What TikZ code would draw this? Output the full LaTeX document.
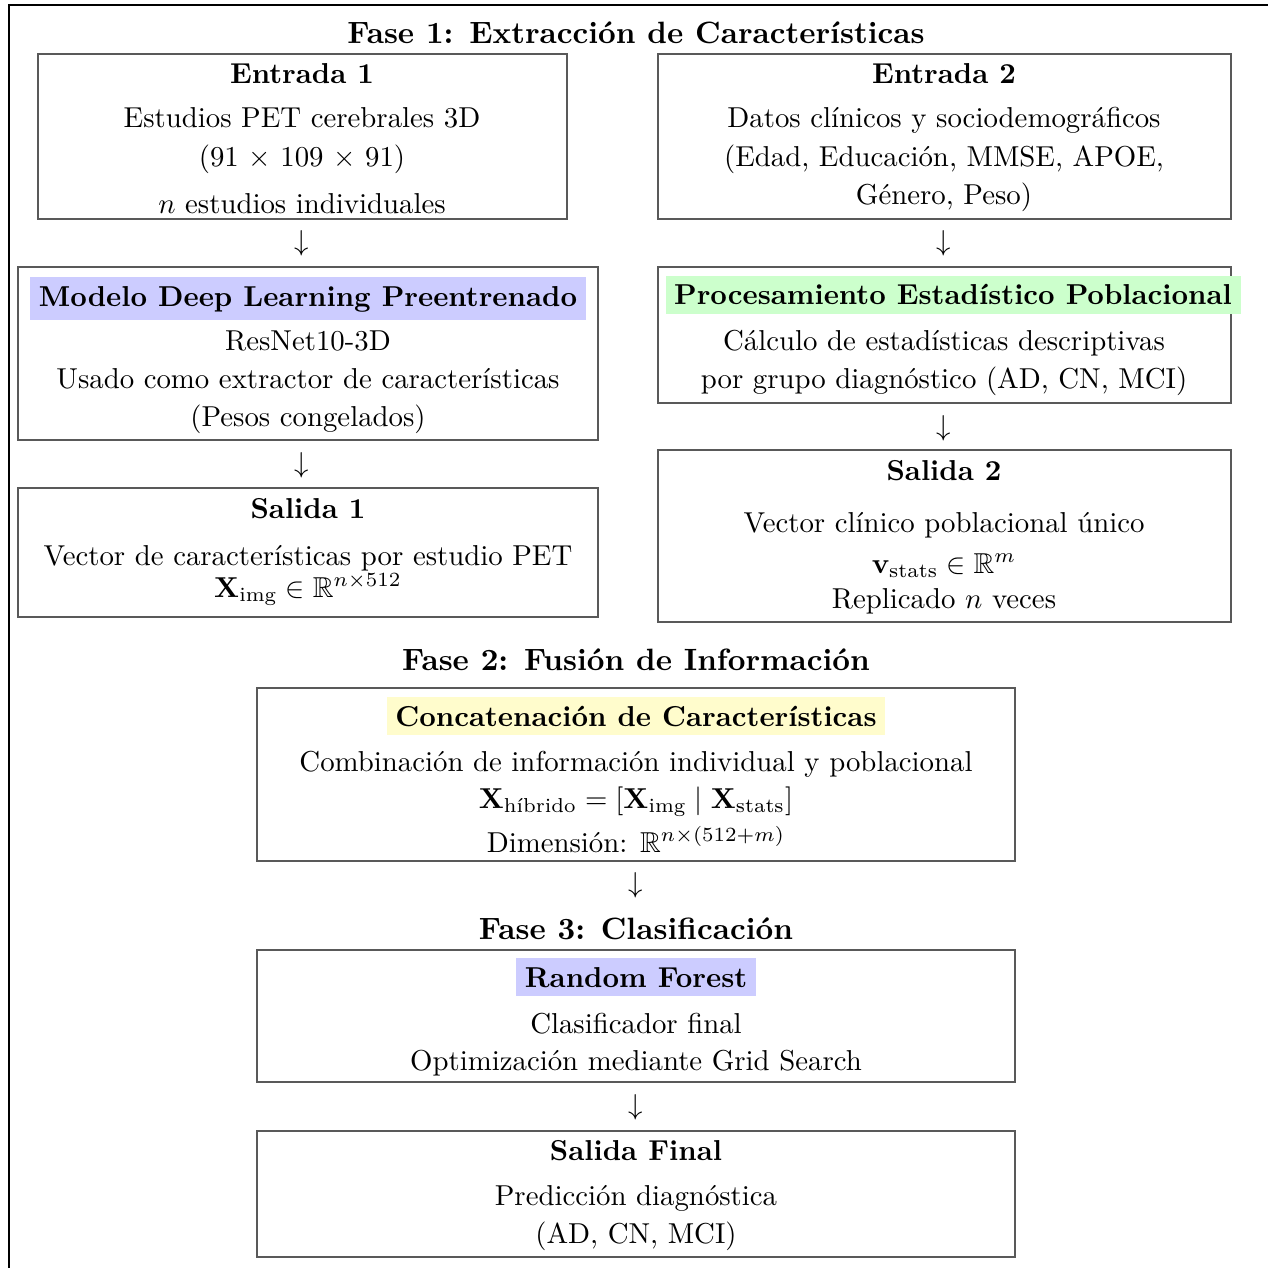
\documentclass[tikz,border=0pt]{standalone}
\usepackage{amsmath,amssymb}
\begin{document}
\begin{tikzpicture}[x=0.34722pt,y=-0.34722pt,
  boxnode/.style={draw=black!65, line width=0.6pt, inner sep=0pt},
  txt/.style={anchor=base, inner sep=0pt, font=\fontsize{10}{12}\selectfont},
  ttl/.style={anchor=base, inner sep=0pt, font=\fontsize{10}{12}\selectfont\bfseries},
  phase/.style={anchor=base, inner sep=0pt, font=\fontsize{10.7}{13}\selectfont\bfseries},
  hl/.style={anchor=base, inner sep=3pt, font=\fontsize{10}{12}\selectfont\bfseries},
  arr/.style={anchor=center, inner sep=0pt, font=\fontsize{10}{12}\selectfont}]
\useasboundingbox (0,0) rectangle (1268,1268);
\fill[white] (0,0) rectangle (1268,1268);
% outer frame (cropped at right and bottom)
\draw[black, line width=0.5pt] (1290,5) -- (9,5) -- (9,1290);

% ---------- Fase 1
\node[phase] (f1) at (636,44) {Fase 1: Extracción de Características};

% Entrada 1
\node[boxnode, minimum width=529*0.34722pt, minimum height=165*0.34722pt] (e1) at (302.5,136.5) {};
\node[ttl] (e1t) at (302,83.5) {Entrada 1};
\node[txt] (e1a) at (302,128) {Estudios PET cerebrales 3D};
\node[txt] (e1b) at (302,167) {(91 $\times$ 109 $\times$ 91)};
\node[txt] (e1c) at (302,214) {$n$ estudios individuales};

% Entrada 2
\node[boxnode, minimum width=573*0.34722pt, minimum height=165*0.34722pt] (e2) at (944.5,136.5) {};
\node[ttl] (e2t) at (944,83.5) {Entrada 2};
\node[txt] (e2a) at (944,128) {Datos clínicos y sociodemográficos};
\node[txt] (e2b) at (944,167) {(Edad, Educación, MMSE, APOE,};
\node[txt] (e2c) at (944,205) {Género, Peso)};

\node[arr] (a1) at (302,243) {$\downarrow$};
\node[arr] (a2) at (944,243) {$\downarrow$};

% Modelo
\node[boxnode, minimum width=580*0.34722pt, minimum height=173*0.34722pt] (m) at (308,353.5) {};
\node[hl, fill=blue!20] (mt) at (308,306) {Modelo Deep Learning Preentrenado};
\node[txt] (ma) at (308,351) {ResNet10-3D};
\node[txt] (mb) at (308,388) {Usado como extractor de características};
\node[txt] (mc) at (308,426) {(Pesos congelados)};

% Procesamiento
\node[boxnode, minimum width=573*0.34722pt, minimum height=136*0.34722pt] (p) at (944.5,335) {};
\node[hl, fill=green!20] (pt) at (953,305) {Procesamiento Estadístico Poblacional};
\node[txt] (pa) at (944,351) {Cálculo de estadísticas descriptivas};
\node[txt] (pb) at (944,388) {por grupo diagnóstico (AD, CN, MCI)};

\node[arr] (a3) at (302,465) {$\downarrow$};
\node[arr] (a4) at (944,428) {$\downarrow$};

% Salida 1
\node[boxnode, minimum width=580*0.34722pt, minimum height=129*0.34722pt] (s1) at (308,552.5) {};
\node[ttl] (s1t) at (308,518) {Salida 1};
\node[txt] (s1a) at (308,565) {Vector de características por estudio PET};
\node[txt] (s1b) at (308,597) {$\mathbf{X}_{\text{img}} \in \mathbb{R}^{n\times 512}$};

% Salida 2
\node[boxnode, minimum width=573*0.34722pt, minimum height=172*0.34722pt] (s2) at (944.5,536) {};
\node[ttl] (s2t) at (944,480) {Salida 2};
\node[txt] (s2a) at (944,532) {Vector clínico poblacional único};
\node[txt] (s2b) at (944,573) {$\mathbf{v}_{\text{stats}} \in \mathbb{R}^{m}$};
\node[txt] (s2c) at (944,608) {Replicado $n$ veces};

% ---------- Fase 2
\node[phase] (f2) at (636,670) {Fase 2: Fusión de Información};
\node[boxnode, minimum width=758*0.34722pt, minimum height=173*0.34722pt] (c) at (636,774.5) {};
\node[hl, fill=yellow!20] (ct) at (636,726) {Concatenación de Características};
\node[txt] (ca) at (636,771) {Combinación de información individual y poblacional};
\node[txt] (cb) at (636,808) {$\mathbf{X}_{\text{híbrido}} = [\mathbf{X}_{\text{img}} \mid \mathbf{X}_{\text{stats}}]$};
\node[txt] (cc) at (636,852) {Dimensión: $\mathbb{R}^{n\times(512+m)}$};

\node[arr] (a5) at (636,885) {$\downarrow$};

% ---------- Fase 3
\node[phase] (f3) at (636,939) {Fase 3: Clasificación};
\node[boxnode, minimum width=758*0.34722pt, minimum height=132*0.34722pt] (rf) at (636,1016) {};
\node[hl, fill=blue!20] (rft) at (636,987) {Random Forest};
\node[txt] (rfa) at (636,1033) {Clasificador final};
\node[txt] (rfb) at (636,1070) {Optimización mediante Grid Search};

\node[arr] (a6) at (636,1107) {$\downarrow$};

% Salida final
\node[boxnode, minimum width=758*0.34722pt, minimum height=126*0.34722pt] (sf) at (636,1194) {};
\node[ttl] (sft) at (636,1160) {Salida Final};
\node[txt] (sfa) at (636,1205) {Predicción diagnóstica};
\node[txt] (sfb) at (636,1243) {(AD, CN, MCI)};
\end{tikzpicture}
\end{document}
